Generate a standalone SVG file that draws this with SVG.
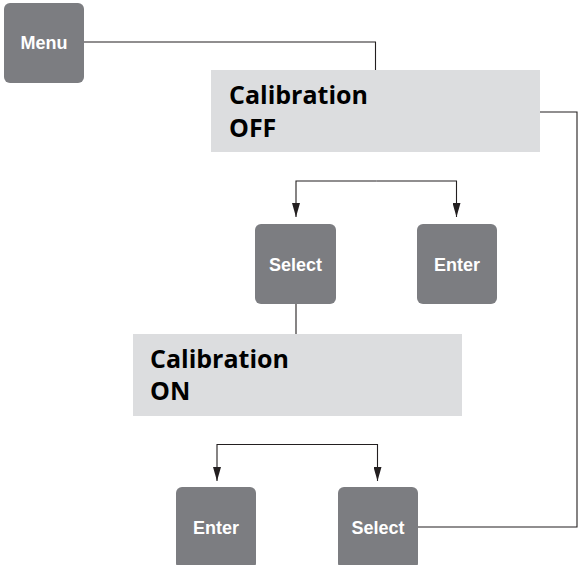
<svg xmlns="http://www.w3.org/2000/svg" width="579" height="565" viewBox="0 0 579 565">
<style>
.btn{fill:#7c7d81}
.btxt{font-family:"Liberation Sans",Arial,sans-serif;font-weight:bold;font-size:18px;fill:#fff;text-anchor:middle}
.box{fill:#dcdddf}
.btxt2{font-family:"Open Sans","Noto Sans",sans-serif;font-weight:bold;font-size:25px;fill:#000}
.ln{fill:none;stroke:#231f20;stroke-width:1.1}
</style>
<defs>
<marker id="ah" viewBox="0 0 14 8" refX="14" refY="4" markerWidth="14" markerHeight="8" markerUnits="userSpaceOnUse" orient="auto">
<path d="M0,0 L14,4 L0,8 Z" fill="#231f20"/>
</marker>
</defs>
<g id="connectors">
<path class="ln" d="M84,42 H375.5 V70"/>
<path class="ln" d="M540,112 H577 V527 H418"/>
<path class="ln" d="M376.5,181 H296 V217" marker-end="url(#ah)"/>
<path class="ln" d="M376.5,181 H456.5 V217" marker-end="url(#ah)"/>
<path class="ln" d="M296,304 V334"/>
<path class="ln" d="M297,444.5 H217 V481" marker-end="url(#ah)"/>
<path class="ln" d="M297,444.5 H377.5 V481" marker-end="url(#ah)"/>
</g>
<g id="menu">
<rect class="btn" x="4" y="3" width="80" height="80" rx="6"/>
<text class="btxt" x="44" y="49">Menu</text>
</g>
<g id="cal-off">
<rect class="box" x="211" y="70" width="329" height="82"/>
<text class="btxt2" x="229" y="104">Calibration</text>
<text class="btxt2" x="229" y="137">OFF</text>
</g>
<g id="select1">
<rect class="btn" x="255" y="224" width="81" height="80" rx="6"/>
<text class="btxt" x="295.5" y="271">Select</text>
</g>
<g id="enter1">
<rect class="btn" x="417" y="224" width="80" height="80" rx="6"/>
<text class="btxt" x="457" y="271">Enter</text>
</g>
<g id="cal-on">
<rect class="box" x="133" y="334" width="329" height="82"/>
<text class="btxt2" x="150" y="368">Calibration</text>
<text class="btxt2" x="150" y="400">ON</text>
</g>
<g id="enter2">
<rect class="btn" x="176" y="487" width="80" height="82" rx="6"/>
<text class="btxt" x="216" y="534">Enter</text>
</g>
<g id="select2">
<rect class="btn" x="338" y="487" width="80" height="82" rx="6"/>
<text class="btxt" x="378" y="534">Select</text>
</g>
</svg>
